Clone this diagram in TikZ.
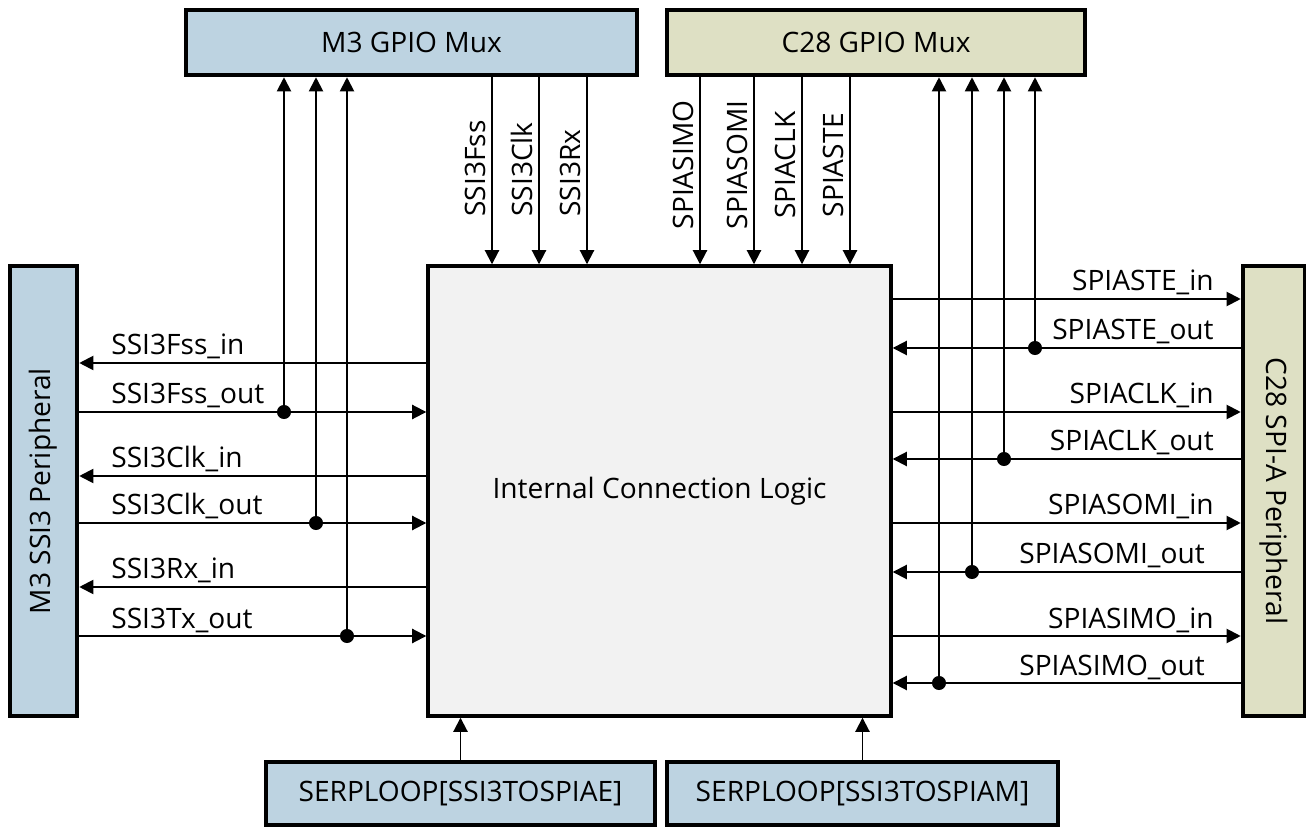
\documentclass[tikz,border=0pt]{standalone}
\usepackage{fontspec}
\setmainfont{Open Sans}
\usetikzlibrary{arrows.meta}
\definecolor{m3blue}{HTML}{BDD3E1}
\definecolor{c28olive}{HTML}{DEE0C4}
\definecolor{iclgray}{HTML}{F2F2F2}

\begin{document}
\begin{tikzpicture}[x=0.02cm,y=-0.02cm,>={Triangle[length=8pt,width=8pt]},
  every node/.style={font=\fontsize{16}{19}\selectfont},
  blk/.style={draw,line width=2.6pt,inner sep=0pt},
  sig/.style={line width=1.1pt},
  lbl/.style={inner sep=0pt}]
\useasboundingbox (0,0) rectangle (1306,827);
% blocks
\node[blk,fill=m3blue,minimum width=9.02cm,minimum height=1.3cm] (m3mux) at (411.5,42.5) {M3 GPIO Mux};
\node[blk,fill=c28olive,minimum width=8.36cm,minimum height=1.3cm] (c28mux) at (876,42.5) {C28 GPIO Mux};
\node[blk,line width=2pt,fill=iclgray,minimum width=9.26cm,minimum height=9cm] (icl) at (659.5,491) {Internal Connection Logic};
\node[blk,fill=m3blue,minimum width=1.34cm,minimum height=9cm] (m3per) at (43.5,491) {\rotatebox{90}{M3 SSI3 Peripheral}};
\node[blk,fill=c28olive,minimum width=1.24cm,minimum height=9cm] (c28per) at (1274,491) {\rotatebox{-90}{C28 SPI-A Peripheral}};
\node[blk,fill=m3blue,minimum width=7.78cm,minimum height=1.26cm] (serpE) at (460.5,793.5) {SERPLOOP[SSI3TOSPIAE]};
\node[blk,fill=m3blue,minimum width=7.82cm,minimum height=1.26cm] (serpM) at (862.5,793.5) {SERPLOOP[SSI3TOSPIAM]};

% mux -> logic
\foreach \x/\t in {492/SSI3Fss,539/SSI3Clk,587/SSI3Rx}{
  \draw[sig,->] (m3mux.south -| \x,0) -- (icl.north -| \x,0);
  \node[lbl,rotate=90,anchor=base west] at (\x-7,217) {\t};}
\foreach \x/\t in {700/SPIASIMO,754/SPIASOMI,802/SPIACLK,850/SPIASTE}{
  \draw[sig,->] (c28mux.south -| \x,0) -- (icl.north -| \x,0);
  \node[lbl,rotate=90,anchor=base] at (\x-7,165) {\t};}

% M3 SSI3 side
\foreach \y/\t in {363/SSI3Fss\_in,476/SSI3Clk\_in,587/SSI3Rx\_in}{
  \draw[sig,->] (icl.west |- 0,\y) -- (m3per.east |- 0,\y);
  \node[lbl,anchor=base west] at (111,\y-8) {\t};}
\foreach \y/\x/\t in {412/284/SSI3Fss\_out,523/316/SSI3Clk\_out,636/347/SSI3Tx\_out}{
  \coordinate (tap\x) at (\x,\y);
  \draw[sig,->] (m3per.east |- tap\x) -- (icl.west |- tap\x);
  \draw[sig,->] (tap\x) -- (tap\x |- m3mux.south);
  \fill (tap\x) circle[radius=4pt];
  \node[lbl,anchor=base west] at (111,\y-8) {\t};}

% C28 SPI-A side
\foreach \y/\t in {299/SPIASTE\_in,412/SPIACLK\_in,523/SPIASOMI\_in,636/SPIASIMO\_in}{
  \draw[sig,->] (icl.east |- 0,\y) -- (c28per.west |- 0,\y);
  \node[lbl,anchor=base east] at (1214,\y-8) {\t};}
\foreach \y/\x/\e/\t in {348/1035/1214/SPIASTE\_out,459/1004/1214/SPIACLK\_out,572/972/1205/SPIASOMI\_out,683/939/1205/SPIASIMO\_out}{
  \coordinate (tap\x) at (\x,\y);
  \draw[sig,->] (c28per.west |- tap\x) -- (icl.east |- tap\x);
  \draw[sig,->] (tap\x) -- (tap\x |- c28mux.south);
  \fill (tap\x) circle[radius=4pt];
  \node[lbl,anchor=base east] at (\e,\y-8) {\t};}

% loopback enables
\draw[sig,->] (serpE.north) -- (serpE.north |- icl.south);
\draw[sig,->] (serpM.north) -- (serpM.north |- icl.south);
\end{tikzpicture}
\end{document}
